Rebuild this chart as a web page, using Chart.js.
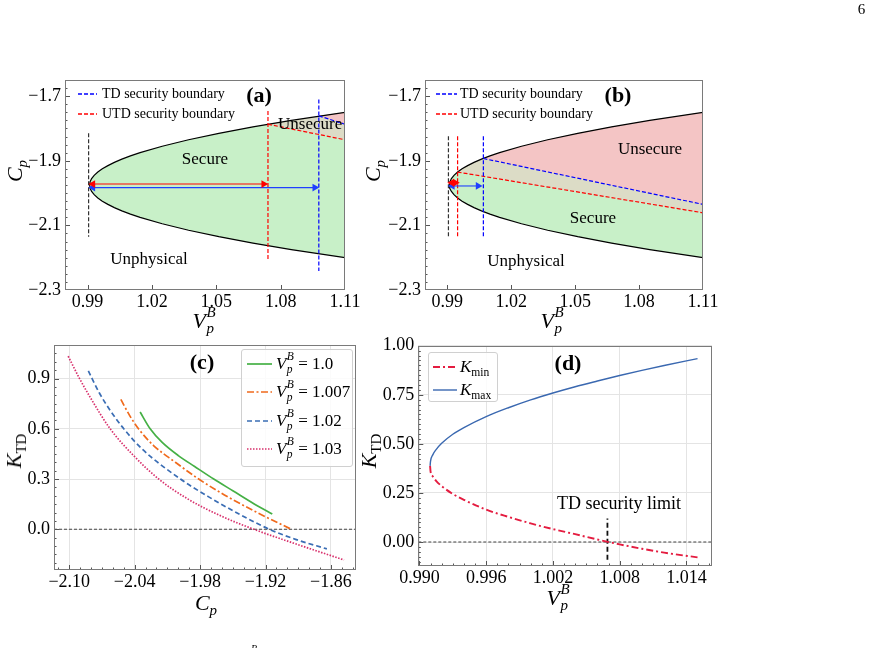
<!DOCTYPE html>
<html><head><meta charset="utf-8">
<script src="https://cdn.jsdelivr.net/npm/chart.js@4.4.0/dist/chart.umd.min.js"></script>
<style>
html,body{margin:0;padding:0;background:#fff;}
body{width:875px;height:648px;position:relative;overflow:hidden;font-family:'Liberation Serif','Times New Roman',serif;color:#000;}
canvas.plot{position:absolute;left:0;top:0;width:875px;height:648px;}
.t{position:absolute;white-space:nowrap;line-height:1;transform:translate(-50%,-50%);}
.i{font-style:italic;}
.ss{display:inline-block;vertical-align:-0.32em;line-height:1.1;font-size:0.68em;margin-left:0.04em;text-align:left;}
.ss>span{display:block;}
.sb{font-size:0.68em;position:relative;top:0.32em;}
.frame{position:absolute;border:1px solid #d0d0d0;border-radius:3px;background:rgba(255,255,255,0.85);box-sizing:border-box;}
</style>
</head><body>
<canvas id="ca" class="plot" width="875" height="648"></canvas>
<canvas id="cb" class="plot" width="875" height="648"></canvas>
<canvas id="cc" class="plot" width="875" height="648"></canvas>
<canvas id="cd" class="plot" width="875" height="648"></canvas>
<script>
// ---------------- DATA ----------------
// Panels (a),(b): stability boundary (V_p^B vs C_p)
const boundaryV  = [1.110, 1.085, 1.0671, 1.0512, 1.0371, 1.0248, 1.0145, 1.0100, 1.0060, 1.0025, 0.9995, 0.9969, 0.9948, 0.9931, 0.9919, 0.9912, 0.9910, 0.9912, 0.9919, 0.9931, 0.9948, 0.9969, 0.9995, 1.0025, 1.0060, 1.0100, 1.0145, 1.0248, 1.0371, 1.0512, 1.0671, 1.085, 1.110];
const boundaryCp = [-1.750, -1.775, -1.795, -1.815, -1.835, -1.855, -1.875, -1.885, -1.895, -1.905, -1.915, -1.925, -1.935, -1.945, -1.955, -1.965, -1.975, -1.985, -1.995, -2.005, -2.015, -2.025, -2.035, -2.045, -2.055, -2.065, -2.075, -2.095, -2.115, -2.135, -2.155, -2.175, -2.200];
const xTicksAB = [0.99, 1.02, 1.05, 1.08, 1.11];
const yTicksAB = [-2.3, -2.1, -1.9, -1.7];

// Panel (a)
const utdA_V = [1.0741, 1.11],  utdA_Cp = [-1.787, -1.835];
const tdA_V  = [1.0978, 1.11],  tdA_Cp  = [-1.761, -1.787];
const tanA_V  = [1.0741, 1.085, 1.11, 1.11],  tanA_Cp  = [-1.787, -1.775, -1.750, -1.835];
const pinkA_V = [1.0978, 1.11, 1.11],         pinkA_Cp = [-1.761, -1.750, -1.787];
const vBlackA_V = [0.9905, 0.9905], vBlackA_Cp = [-1.815, -2.135];
const vRedA_V   = [1.0741, 1.0741], vRedA_Cp   = [-1.746, -2.205];
const vBlueA_V  = [1.0978, 1.0978], vBlueA_Cp  = [-1.710, -2.241];
const arrRedA_V  = [0.9925, 1.0721], arrRedA_Cp  = [-1.972, -1.972];
const arrBlueA_V = [0.9925, 1.0959], arrBlueA_Cp = [-1.983, -1.983];

// Panel (b)
const utdB_V = [0.9948, 1.11], utdB_Cp = [-1.935, -2.061];
const tdB_V  = [1.0069, 1.11], tdB_Cp  = [-1.893, -2.035];
const tanB_V  = [0.9948, 0.9969, 0.9995, 1.0025, 1.0060, 1.0100, 1.0145, 1.0248, 1.0371, 1.0512, 1.0671, 1.085, 1.110, 1.110];
const tanB_Cp = [-1.935, -1.925, -1.915, -1.905, -1.895, -1.885, -1.875, -1.855, -1.835, -1.815, -1.795, -1.775, -1.750, -2.061];
const pinkB_V  = [1.0069, 1.0100, 1.0145, 1.0248, 1.0371, 1.0512, 1.0671, 1.085, 1.110, 1.110];
const pinkB_Cp = [-1.893, -1.885, -1.875, -1.855, -1.835, -1.815, -1.795, -1.775, -1.750, -2.035];
const vBlackB_V = [0.9905, 0.9905], vBlackB_Cp = [-1.824, -2.135];
const vRedB_V   = [0.9948, 0.9948], vRedB_Cp   = [-1.824, -2.135];
const vBlueB_V  = [1.0069, 1.0069], vBlueB_Cp  = [-1.824, -2.135];
const arrRedB_V  = [0.9921, 0.9937],  arrRedB_Cp  = [-1.968, -1.968];
const arrBlueB_V = [0.99235, 1.0044], arrBlueB_Cp = [-1.978, -1.978];

// Panel (c): K_TD vs C_p
const cp100  = [-2.035, -2.0258, -2.015, -2.000, -1.985, -1.9675, -1.950, -1.930, -1.9138];
const k100   = [0.700, 0.600, 0.520, 0.440, 0.375, 0.300, 0.230, 0.150, 0.091];
const cp1007 = [-2.0527, -2.0447, -2.0365, -2.0227, -2.0027, -1.9813, -1.9577, -1.9277, -1.8963];
const k1007  = [0.775, 0.680, 0.600, 0.500, 0.400, 0.300, 0.205, 0.100, 0.000];
const cp102  = [-2.0825, -2.0725, -2.0625, -2.050, -2.0325, -1.998, -1.9725, -1.9425, -1.9165, -1.8925, -1.8637];
const k102   = [0.946, 0.815, 0.710, 0.600, 0.475, 0.300, 0.195, 0.085, 0.000, -0.060, -0.117];
const cp103  = [-2.101, -2.091, -2.081, -2.0625, -2.041, -2.018, -1.991, -1.961, -1.9307, -1.891, -1.848];
const k103   = [1.033, 0.905, 0.790, 0.600, 0.440, 0.300, 0.180, 0.080, 0.000, -0.090, -0.183];
const xTicksC = [-2.10, -2.04, -1.98, -1.92, -1.86];
const yTicksC = [0.0, 0.3, 0.6, 0.9];
const zeroC_Cp = [-2.114, -1.837], zeroC_K = [0, 0];

// Panel (d): K_min / K_max vs V_p^B
const vD    = [0.99096, 0.9910, 0.9912, 0.9915, 0.992, 0.993, 0.994, 0.996, 0.998, 1.000, 1.002, 1.004, 1.006, 1.008, 1.010, 1.012, 1.015];
const kMax  = [0.388, 0.412, 0.444, 0.471, 0.503, 0.549, 0.583, 0.639, 0.684, 0.724, 0.759, 0.791, 0.820, 0.848, 0.874, 0.899, 0.934];
const kMin  = [0.388, 0.360, 0.335, 0.312, 0.285, 0.245, 0.215, 0.165, 0.128, 0.095, 0.066, 0.040, 0.013, -0.012, -0.034, -0.054, -0.078];
const tdLimitV = [1.0069, 1.0069], tdLimitK = [-0.09, 0.12];
const zeroD_V = [0.9899, 1.0163], zeroD_K = [0, 0];
const xTicksD = [0.990, 0.996, 1.002, 1.008, 1.014];
const yTicksD = [0.00, 0.25, 0.50, 0.75, 1.00];

// ---------------- HELPERS ----------------
const W = 875, H = 648, YW = 60, XH = 40;
Chart.defaults.font.family = "'Liberation Serif','Times New Roman',serif";
Chart.defaults.font.size = 18;
Chart.defaults.color = '#000';

function pts(xs, ys) { return xs.map((x, i) => ({x: x, y: ys[i]})); }
function steps(a, b, st) { const o = []; const n = Math.round((b - a) / st); for (let i = 0; i <= n; i++) o.push(+(a + i * st).toFixed(6)); return o; }
function fmt(v, d) { const s = Math.abs(v).toFixed(d); return (v < -1e-9 ? '\u2212' : '') + s; }
function line(xs, ys, color, width, dash, order, extra) {
  return Object.assign({data: pts(xs, ys), showLine: true, borderColor: color, borderWidth: width,
    borderDash: dash || [], pointRadius: 0, fill: false, tension: 0, order: order}, extra || {});
}
function poly(xs, ys, color, order) {
  return {data: pts(xs, ys), showLine: true, borderWidth: 0, borderColor: 'rgba(0,0,0,0)',
    backgroundColor: color, fill: 'shape', pointRadius: 0, tension: 0, order: order};
}
function arrow(xs, ys, color, order, r) {
  return line(xs, ys, color, 1.1, [], order, {pointStyle: 'triangle', pointRadius: r || 4.5,
    pointRotation: [-90, 90], pointBackgroundColor: color, pointBorderColor: color, pointBorderWidth: 0});
}

const frameTicks = {
  id: 'frameTicks',
  afterDraw(chart) {
    const o = chart.options.plugins.frameTicks;
    const ctx = chart.ctx, a = chart.chartArea, xs = chart.scales.x, ys = chart.scales.y;
    ctx.save();
    ctx.strokeStyle = '#555'; ctx.lineWidth = 1;
    ctx.beginPath();
    const tx = (vals, len) => vals.forEach(v => {
      const p = Math.round(xs.getPixelForValue(v)) + 0.5;
      if (p < a.left + 1 || p > a.right - 1) return;
      ctx.moveTo(p, a.bottom); ctx.lineTo(p, a.bottom - len);
    });
    const ty = (vals, len) => vals.forEach(v => {
      const p = Math.round(ys.getPixelForValue(v)) + 0.5;
      if (p < a.top + 1 || p > a.bottom - 1) return;
      ctx.moveTo(a.left, p); ctx.lineTo(a.left + len, p);
    });
    tx(o.xMajor, 5); tx(o.xMinor, 2.5); ty(o.yMajor, 5); ty(o.yMinor, 2.5);
    ctx.stroke();
    ctx.strokeStyle = '#7a7a7a';
    ctx.strokeRect(Math.round(a.left) + 0.5, Math.round(a.top) + 0.5, Math.round(a.right) - Math.round(a.left) - 1, Math.round(a.bottom) - Math.round(a.top) - 1);
    ctx.restore();
  }
};

function zeroPad(s) { s.paddingLeft = 0; s.paddingRight = 0; s.paddingTop = 0; s.paddingBottom = 0; }

function mkChart(id, area, xr, yr, xT, xD, yT, yD, xMinor, yMinor, gridOn, datasets) {
  const grid = {display: gridOn, color: '#e4e4e4', lineWidth: 1, drawTicks: false};
  return new Chart(document.getElementById(id), {
    type: 'scatter',
    data: {datasets: datasets},
    options: {
      responsive: false, animation: false, events: [],
      layout: {padding: {left: area.L - YW, top: area.T, right: W - area.R, bottom: H - area.B - XH}},
      plugins: {legend: {display: false}, tooltip: {enabled: false},
        frameTicks: {xMajor: xT, yMajor: yT, xMinor: xMinor, yMinor: yMinor}},
      scales: {
        x: {type: 'linear', min: xr[0], max: xr[1],
          afterBuildTicks: s => { s.ticks = xT.map(v => ({value: v})); },
          afterFit: s => { s.height = XH; zeroPad(s); },
          ticks: {callback: v => fmt(v, xD), maxRotation: 0, minRotation: 0, autoSkip: false, padding: 1, color: '#000'},
          grid: grid, border: {display: false}},
        y: {type: 'linear', min: yr[0], max: yr[1],
          afterBuildTicks: s => { s.ticks = yT.map(v => ({value: v})); },
          afterFit: s => { s.width = YW; zeroPad(s); },
          ticks: {callback: v => fmt(v, yD), autoSkip: false, padding: 4, color: '#000'},
          grid: grid, border: {display: false}}
      }
    },
    plugins: [frameTicks]
  });
}

const GREEN = '#c8f0c8', PINK = '#f4c5c5', TAN = '#dcdcc6';
const BLUE = '#0000ff', RED = '#ff0000', BLK = '#333333';

// ---------------- PANEL (a) ----------------
mkChart('ca', {L: 65, T: 80, R: 345, B: 290}, [0.9795, 1.11], [-2.3, -1.65], xTicksAB, 2, yTicksAB, 1,
  [], steps(-2.3, -1.65, 0.025), false, [
  arrow(arrRedA_V, arrRedA_Cp, RED, 1),
  arrow(arrBlueA_V, arrBlueA_Cp, '#1f3fff', 1),
  line(vBlackA_V, vBlackA_Cp, BLK, 1.2, [4, 2], 2),
  line(vRedA_V, vRedA_Cp, RED, 1.2, [4, 2], 2),
  line(vBlueA_V, vBlueA_Cp, BLUE, 1.2, [4, 2], 2),
  line(utdA_V, utdA_Cp, RED, 1.2, [4, 2], 2),
  line(tdA_V, tdA_Cp, BLUE, 1.2, [4, 2], 2),
  line(boundaryV, boundaryCp, '#000', 1.2, [], 3),
  poly(pinkA_V, pinkA_Cp, PINK, 10),
  poly(tanA_V, tanA_Cp, TAN, 11),
  poly(boundaryV, boundaryCp, GREEN, 12)
]);

// ---------------- PANEL (b) ----------------
mkChart('cb', {L: 425, T: 80, R: 703, B: 290}, [0.9795, 1.11], [-2.3, -1.65], xTicksAB, 2, yTicksAB, 1,
  [], steps(-2.3, -1.65, 0.025), false, [
  arrow(arrRedB_V, arrRedB_Cp, RED, 1),
  arrow(arrBlueB_V, arrBlueB_Cp, '#1f3fff', 1),
  line(vBlackB_V, vBlackB_Cp, BLK, 1.2, [4, 2], 2),
  line(vRedB_V, vRedB_Cp, RED, 1.2, [4, 2], 2),
  line(vBlueB_V, vBlueB_Cp, BLUE, 1.2, [4, 2], 2),
  line(utdB_V, utdB_Cp, RED, 1.2, [4, 2], 2),
  line(tdB_V, tdB_Cp, BLUE, 1.2, [4, 2], 2),
  line(boundaryV, boundaryCp, '#000', 1.2, [], 3),
  poly(pinkB_V, pinkB_Cp, PINK, 10),
  poly(tanB_V, tanB_Cp, TAN, 11),
  poly(boundaryV, boundaryCp, GREEN, 12)
]);

// ---------------- PANEL (c) ----------------
const monoC = {cubicInterpolationMode: 'monotone'};
mkChart('cc', {L: 54, T: 345, R: 356, B: 570}, [-2.114, -1.837], [-0.243, 1.10], xTicksC, 2, yTicksC, 1,
  steps(-2.11, -1.84, 0.01), steps(-0.2, 1.1, 0.05), true, [
  line(cp100, k100, '#45b045', 1.7, [], 1, monoC),
  line(cp1007, k1007, '#f06a1c', 1.7, [7, 2.5, 2, 2.5], 1, monoC),
  line(cp102, k102, '#3a6db4', 1.7, [5, 3], 1, monoC),
  line(cp103, k103, '#d8306c', 1.7, [1.5, 1.5], 1, monoC),
  line(zeroC_Cp, zeroC_K, '#444', 1.1, [3, 2], 2)
]);

// ---------------- PANEL (d) ----------------
mkChart('cd', {L: 418.3, T: 345.7, R: 712, B: 566}, [0.9899, 1.0163], [-0.122, 1.0], xTicksD, 3, yTicksD, 2,
  steps(0.990, 1.016, 0.001), steps(-0.1, 1.0, 0.025), true, [
  line(vD, kMax, '#3a68b0', 1.4, [], 1, monoC),
  line(vD, kMin, '#e41c40', 1.9, [7, 3, 2, 3], 1, monoC),
  line(tdLimitV, tdLimitK, '#111', 1.8, [5, 3], 2),
  line(zeroD_V, zeroD_K, '#444', 1.1, [3, 2], 3)
]);

// ---------------- TEXT OVERLAYS ----------------
function addText(html, x, y, css, mode) {
  const d = document.createElement('div');
  d.className = 't'; d.innerHTML = html;
  d.style.left = x + 'px'; d.style.top = y + 'px';
  if (css) d.style.cssText += css;
  if (mode === 'left') d.style.transform = 'translate(0,-50%)';
  if (mode === 'rot') d.style.transform = 'translate(-50%,-50%) rotate(-90deg)';
  document.body.appendChild(d);
}
function addSample(x1, x2, y, color, width, dash) {
  const ns = 'http://www.w3.org/2000/svg';
  const s = document.createElementNS(ns, 'svg');
  s.setAttribute('width', x2 - x1); s.setAttribute('height', 10);
  s.style.cssText = 'position:absolute;left:' + x1 + 'px;top:' + (y - 5) + 'px;overflow:visible';
  const l = document.createElementNS(ns, 'line');
  l.setAttribute('x1', 0); l.setAttribute('y1', 5); l.setAttribute('x2', x2 - x1); l.setAttribute('y2', 5);
  l.setAttribute('stroke', color); l.setAttribute('stroke-width', width);
  if (dash) l.setAttribute('stroke-dasharray', dash);
  s.appendChild(l); document.body.appendChild(s);
}
function addFrame(l, t, r, b) {
  const d = document.createElement('div'); d.className = 'frame';
  d.style.left = l + 'px'; d.style.top = t + 'px'; d.style.width = (r - l) + 'px'; d.style.height = (b - t) + 'px';
  document.body.appendChild(d);
}
const VPB = '<i>V</i><span class="ss i"><span>B</span><span>p</span></span>';
const CP = '<i>C</i><span class="sb i">p</span>';
const KTD = '<i>K</i><span class="sb">TD</span>';

// page number and stray caption fragment
addText('6', 861.5, 9, 'font-size:15px;');
addText('B', 251, 644, 'font-size:10px;font-style:italic;transform:none;');

// axis titles
addText(VPB, 204, 320, 'font-size:22px;');
addText(CP, 15, 171, 'font-size:22px;', 'rot');
addText(VPB, 552, 320, 'font-size:22px;');
addText(CP, 373, 171, 'font-size:22px;', 'rot');
addText(CP, 206, 603, 'font-size:22px;');
addText(KTD, 14, 451, 'font-size:22px;', 'rot');
addText(VPB, 558, 597, 'font-size:22px;');
addText(KTD, 369, 451, 'font-size:22px;', 'rot');

// panel labels
addText('(a)', 259, 95, 'font-size:22px;font-weight:bold;');
addText('(b)', 618, 95, 'font-size:22px;font-weight:bold;');
addText('(c)', 202, 362, 'font-size:22px;font-weight:bold;');
addText('(d)', 568, 363, 'font-size:22px;font-weight:bold;');

// region texts
addText('Secure', 205, 158, 'font-size:17px;');
addText('Unsecure', 278, 123, 'font-size:17px;', 'left');
addText('Unphysical', 149, 258, 'font-size:17px;');
addText('Unsecure', 650, 148, 'font-size:17px;');
addText('Secure', 593, 217, 'font-size:17px;');
addText('Unphysical', 526, 260, 'font-size:17px;');
addText('TD security limit', 619, 503, 'font-size:18px;');

// legends (a),(b)
addSample(78, 97, 94, BLUE, 1.3, '4 2');
addSample(78, 97, 114, RED, 1.3, '4 2');
addText('TD security boundary', 102, 94, 'font-size:14px;', 'left');
addText('UTD security boundary', 102, 114, 'font-size:14px;', 'left');
addSample(436, 457, 94, BLUE, 1.3, '4 2');
addSample(436, 457, 114, RED, 1.3, '4 2');
addText('TD security boundary', 460, 94, 'font-size:14px;', 'left');
addText('UTD security boundary', 460, 114, 'font-size:14px;', 'left');

// legend (c)
addFrame(241, 349, 353, 467);
addSample(247, 272, 364, '#45b045', 1.7, '');
addSample(247, 272, 392, '#f06a1c', 1.7, '7 2.5 2 2.5');
addSample(247, 272, 421, '#3a6db4', 1.7, '5 3');
addSample(247, 272, 449, '#d8306c', 1.7, '1.5 1.5');
addText(VPB + ' = 1.0', 276, 364, 'font-size:17px;', 'left');
addText(VPB + ' = 1.007', 276, 392, 'font-size:17px;', 'left');
addText(VPB + ' = 1.02', 276, 421, 'font-size:17px;', 'left');
addText(VPB + ' = 1.03', 276, 449, 'font-size:17px;', 'left');

// legend (d)
addFrame(428, 352, 498, 402);
addSample(433, 457, 367, '#e41c40', 1.9, '7 3 2 3');
addSample(433, 457, 390, '#3a68b0', 1.4, '');
addText('<i>K</i><span class="sb">min</span>', 460, 366, 'font-size:17px;', 'left');
addText('<i>K</i><span class="sb">max</span>', 460, 389, 'font-size:17px;', 'left');
</script>
</body></html>
